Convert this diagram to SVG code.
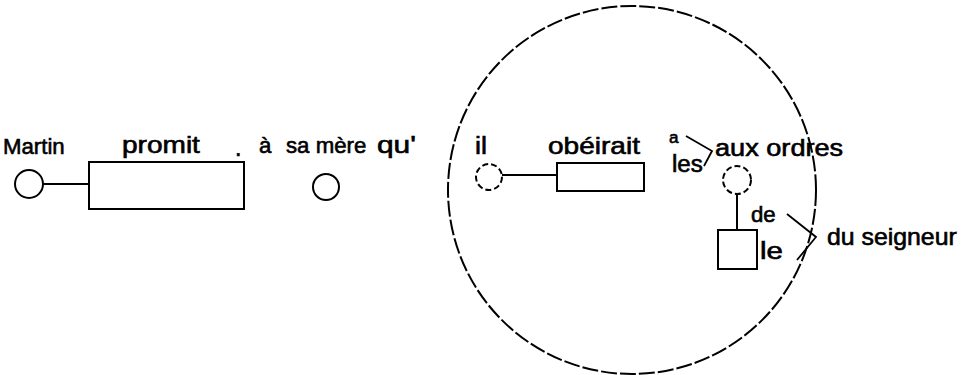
<svg xmlns="http://www.w3.org/2000/svg" width="974" height="375" viewBox="0 0 974 375">
<style>
text{font-family:"Liberation Sans","DejaVu Sans",sans-serif;font-size:23px;fill:#000;stroke:#000;stroke-width:0.6}
.s{fill:none;stroke:#000;stroke-width:2}
.d{fill:none;stroke:#000;stroke-width:2;stroke-dasharray:6 3}
.big{fill:none;stroke:#000;stroke-width:2;stroke-dasharray:16 3}
.t{fill:none;stroke:#000;stroke-width:1.8}
</style>
<rect width="974" height="375" fill="#fff"/>
<g id="clause">
<circle class="big" cx="632" cy="190" r="184"/>
</g>
<g id="martin">
<text transform="translate(3 154) scale(1.01 1)" style="font-size:22px">Martin</text>
<circle class="s" cx="29" cy="184" r="14"/>
</g>
<g id="promit">
<text transform="translate(122 153) scale(1.22 1)">promit</text>
<text transform="translate(235 156) scale(1.01 1)">.</text>
<rect class="s" x="89" y="162" width="155" height="47"/>
</g>
<g id="samere">
<text transform="translate(259 153) scale(1.01 1)" style="font-size:22px">à</text>
<text transform="translate(286 153) scale(1.01 1)" style="font-size:22px">sa mère</text>
<text transform="translate(377 153) scale(1.3 1)">qu'</text>
<circle class="s" cx="326" cy="187" r="13"/>
</g>
<g id="il">
<text transform="translate(475 154) scale(1.17 1)">il</text>
<circle class="d" cx="489" cy="177" r="13"/>
</g>
<g id="obeirait">
<text transform="translate(548 154) scale(1.22 1)">obéirait</text>
<rect class="s" x="557" y="163" width="87" height="28"/>
</g>
<g id="auxordres">
<text transform="translate(669 143) scale(1.01 1)" style="font-size:17px">a</text>
<text transform="translate(672 172) scale(1.05 1)">les</text>
<text transform="translate(715 156) scale(1.18 1)">aux ordres</text>
<circle class="d" cx="737" cy="180" r="14"/>
</g>
<g id="seigneur">
<rect class="s" x="718" y="230" width="39" height="39"/>
<text transform="translate(751 222) scale(1.01 1)" style="font-size:22px">de</text>
<text transform="translate(760 259) scale(1.28 1)">le</text>
<text transform="translate(827 245) scale(1.08 1)">du seigneur</text>
</g>
<g id="connectors">
<line class="s" x1="43" y1="184" x2="89" y2="184"/>
<line class="s" x1="502" y1="175" x2="557" y2="175"/>
<line class="s" x1="737" y1="194" x2="737" y2="230"/>
<polyline class="t" points="686,136 712,151 704,166"/>
<polyline class="t" points="787,214 816,237 797,260"/>
</g>
</svg>
